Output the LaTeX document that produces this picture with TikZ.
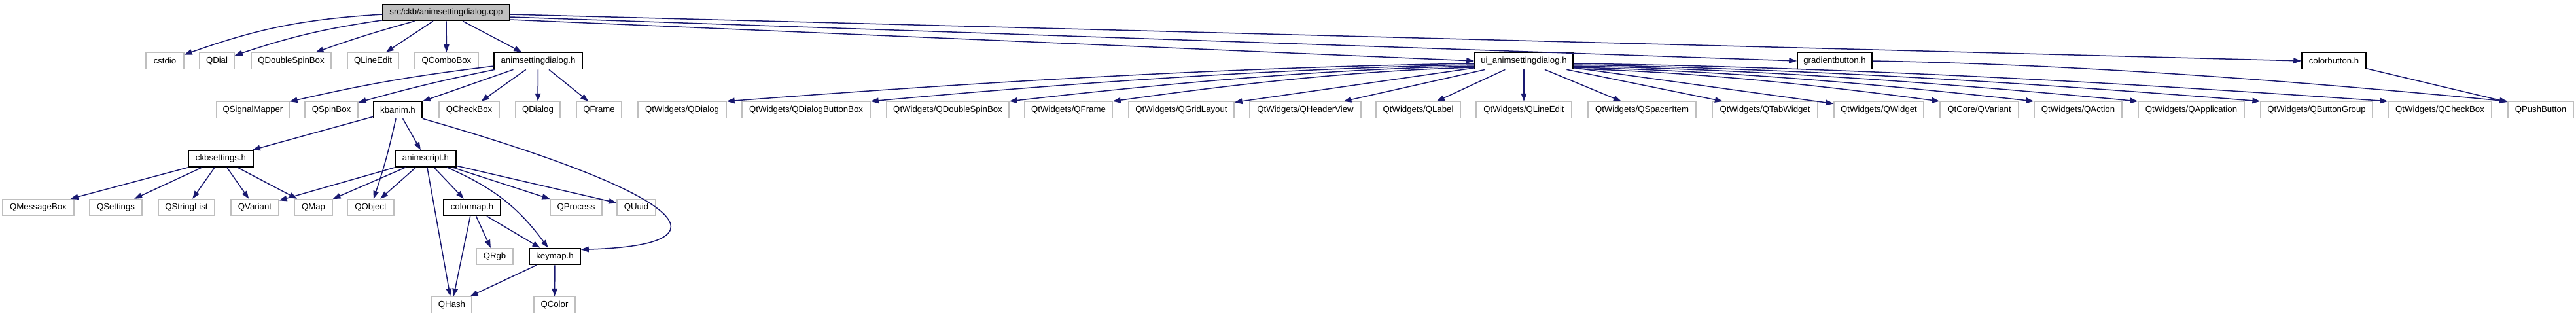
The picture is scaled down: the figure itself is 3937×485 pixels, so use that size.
\documentclass[tikz,border=0pt]{standalone}
\usepackage{fontspec}
\setmainfont{Liberation Sans}
\usetikzlibrary{arrows.meta,calc}
\definecolor{edgeblue}{HTML}{191970}
\definecolor{boxgray}{HTML}{BFBFBF}
\definecolor{maingray}{HTML}{BFBFBF}
\newcommand{\nodefont}{\fontsize{13.2}{15}\selectfont}
\tikzset{
  gnode/.style={draw=boxgray, line width=1.3pt, fill=white, minimum height=25pt, inner sep=0pt, font=\nodefont},
  fnode/.style={gnode, draw=black, line width=1.6pt},
  mnode/.style={fnode, fill=maingray},
  conn/.style={draw=edgeblue, line width=1.5pt, -{Triangle[length=12pt,width=8.5pt]}, fill=none},
  connr/.style={draw=edgeblue, line width=1.5pt, {Triangle[length=12pt,width=8.5pt]}-, fill=none},
}
\begin{document}
\begin{tikzpicture}[x=1pt,y=-1pt]
\useasboundingbox[fill=white] (0,0) rectangle (3937,485);
% row 0
\node[mnode,minimum width=194pt] (main) at (682,19) {src/ckb/animsettingdialog.cpp};
% row 1
\node[gnode,minimum width=58pt] (cstdio) at (252,93) {cstdio};
\node[gnode,minimum width=53pt] (qdial) at (331.5,93) {QDial};
\node[gnode,minimum width=122pt] (qdsb) at (445,93) {QDoubleSpinBox};
\node[gnode,minimum width=78pt] (qle) at (570,93) {QLineEdit};
\node[gnode,minimum width=97pt] (qcb) at (682.5,93) {QComboBox};
\node[fnode,minimum width=135pt] (asdh) at (822.5,93) {animsettingdialog.h};
\node[fnode,minimum width=150pt] (uih) at (2329,93) {ui\_animsettingdialog.h};
\node[fnode,minimum width=114pt] (gradh) at (2804,93) {gradientbutton.h};
\node[fnode,minimum width=98pt] (colh) at (3567,93) {colorbutton.h};
% row 2
\node[gnode,minimum width=111pt] (qsm) at (386.5,168) {QSignalMapper};
\node[gnode,minimum width=81pt] (qsb) at (506.5,168) {QSpinBox};
\node[fnode,minimum width=74pt] (kbanim) at (608,168) {kbanim.h};
\node[gnode,minimum width=92pt] (qchk) at (717,168) {QCheckBox};
\node[gnode,minimum width=68pt] (qdlg) at (822,168) {QDialog};
\node[gnode,minimum width=69pt] (qfrm) at (915.5,168) {QFrame};
\node[gnode,minimum width=135pt] (wdlg) at (1042.5,168) {QtWidgets/QDialog};
\node[gnode,minimum width=196pt] (wdbb) at (1232,168) {QtWidgets/QDialogButtonBox};
\node[gnode,minimum width=187pt] (wdsb) at (1448.5,168) {QtWidgets/QDoubleSpinBox};
\node[gnode,minimum width=134pt] (wfrm) at (1633,168) {QtWidgets/QFrame};
\node[gnode,minimum width=161pt] (wgrid) at (1805.5,168) {QtWidgets/QGridLayout};
\node[gnode,minimum width=170pt] (whv) at (1995,168) {QtWidgets/QHeaderView};
\node[gnode,minimum width=129pt] (wlbl) at (2167.5,168) {QtWidgets/QLabel};
\node[gnode,minimum width=146pt] (wle) at (2329,168) {QtWidgets/QLineEdit};
\node[gnode,minimum width=165pt] (wsi) at (2509.5,168) {QtWidgets/QSpacerItem};
\node[gnode,minimum width=161pt] (wtab) at (2697.5,168) {QtWidgets/QTabWidget};
\node[gnode,minimum width=137pt] (wwid) at (2871.5,168) {QtWidgets/QWidget};
\node[gnode,minimum width=120pt] (cvar) at (3025,168) {QtCore/QVariant};
\node[gnode,minimum width=134pt] (wact) at (3176,168) {QtWidgets/QAction};
\node[gnode,minimum width=162pt] (wapp) at (3349,168) {QtWidgets/QApplication};
\node[gnode,minimum width=171pt] (wbg) at (3540.5,168) {QtWidgets/QButtonGroup};
\node[gnode,minimum width=158pt] (wchk) at (3729,168) {QtWidgets/QCheckBox};
\node[gnode,minimum width=100pt] (qpb) at (3883,168) {QPushButton};
% row 3
\node[fnode,minimum width=99pt] (ckbs) at (337.5,242.5) {ckbsettings.h};
\node[fnode,minimum width=93pt] (anims) at (650.5,242.5) {animscript.h};
% row 4
\node[gnode,minimum width=109pt] (qmb) at (58.5,317) {QMessageBox};
\node[gnode,minimum width=80pt] (qset) at (177,317) {QSettings};
\node[gnode,minimum width=86pt] (qsl) at (285,317) {QStringList};
\node[gnode,minimum width=73pt] (qvar) at (389.5,317) {QVariant};
\node[gnode,minimum width=58pt] (qmap) at (479,317) {QMap};
\node[gnode,minimum width=71pt] (qobj) at (566.5,317) {QObject};
\node[fnode,minimum width=87pt] (colm) at (721.5,317) {colormap.h};
\node[gnode,minimum width=79pt] (qproc) at (880.5,317) {QProcess};
\node[gnode,minimum width=59pt] (quuid) at (972.5,317) {QUuid};
% row 5
\node[gnode,minimum width=56pt] (qrgb) at (756,392) {QRgb};
\node[fnode,minimum width=78pt] (keym) at (848,392) {keymap.h};
% row 6
\node[gnode,minimum width=61pt] (qhash) at (690.5,466) {QHash};
\node[gnode,minimum width=63pt] (qcolor) at (847.5,466) {QColor};

% edges from main
\draw[conn] (main) to[bend right=8] (cstdio);
\draw[conn] (main) to[bend right=5] (qdial);
\draw[conn] (main) to[bend right=2] (qdsb);
\draw[conn] (main) -- (qle);
\draw[conn] (main) -- (qcb);
\draw[conn] (main) -- (asdh);
\draw[conn] ($(main.east)+(0,3)$) -- (colh.west);
\draw[conn] ($(main.east)+(0,7)$) -- (gradh.west);
\draw[conn] ($(main.east)+(0,11)$) -- (uih.west);
% animsettingdialog.h
\draw[conn] (asdh) to[bend right=3] (qsm);
\draw[conn] (asdh) to[bend right=2] (qsb);
\draw[conn] (asdh) -- (kbanim);
\draw[conn] (asdh) -- (qchk);
\draw[conn] (asdh) -- (qdlg);
\draw[conn] (asdh) -- (qfrm);
% kbanim.h
\draw[conn] (kbanim) -- (ckbs);
\draw[conn] (kbanim) -- (anims);
\draw[conn] (kbanim) to[bend left=3] (qobj);
\draw[conn] (kbanim.south east) .. controls (1060,300) and (1120,375) .. (keym.15);
% ckbsettings.h
\draw[conn] (ckbs) -- (qmb);
\draw[conn] (ckbs) -- (qset);
\draw[conn] (ckbs) -- (qsl);
\draw[conn] (ckbs) -- (qvar);
\draw[conn] (ckbs) -- (qmap);
% animscript.h
\draw[conn] (anims) -- (qvar);
\draw[conn] (anims) -- (qmap);
\draw[conn] (anims) -- (qobj);
\draw[conn] (anims) -- (qhash);
\draw[conn] (anims) -- (colm);
\draw[conn] (anims) to[bend left=15] (keym);
\draw[conn] (anims) -- (qproc);
\draw[conn] (anims) -- (quuid);
% colormap.h
\draw[conn] (colm) -- (qhash);
\draw[conn] (colm) -- (qrgb);
\draw[conn] (colm) -- (keym);
% keymap.h
\draw[conn] (keym) -- (qhash);
\draw[conn] (keym) -- (qcolor);
% ui_animsettingdialog.h, left fan (drawn from target back to source)
\draw[connr] (wdlg.north east) .. controls ($(wdlg.north east)+(381,-29)$) and ($(uih.west)+(-381,10)$) .. ($(uih.west)+(0,4)$);
\draw[connr] (wdbb.north east) .. controls ($(wdbb.north east)+(308,-28)$) and ($(uih.west)+(-308,12)$) .. ($(uih.west)+(0,6)$);
\draw[connr] (wdsb.north east) .. controls ($(wdsb.north east)+(237,-27)$) and ($(uih.west)+(-237,13)$) .. ($(uih.west)+(0,8)$);
\draw[connr] (wfrm.north east) .. controls ($(wfrm.north east)+(185,-26)$) and ($(uih.west)+(-185,15)$) .. ($(uih.west)+(0,10)$);
\draw[conn] (uih) -- (wgrid);
\draw[conn] (uih) -- (whv);
\draw[conn] (uih) -- (wlbl);
\draw[conn] (uih) -- (wle);
\draw[conn] (uih) -- (wsi);
\draw[conn] (uih) -- (wtab);
\draw[conn] (uih) -- (wwid);
% right fan
\draw[conn] ($(uih.east)+(0,12)$) .. controls ($(uih.east)+(187,17)$) and ($(cvar.north west)+(-187,-25)$) .. (cvar.north west);
\draw[conn] ($(uih.east)+(0,10)$) .. controls ($(uih.east)+(235,15)$) and ($(wact.north west)+(-235,-26)$) .. (wact.north west);
\draw[conn] ($(uih.east)+(0,8)$) .. controls ($(uih.east)+(288,13)$) and ($(wapp.north west)+(-288,-27)$) .. (wapp.north west);
\draw[conn] ($(uih.east)+(0,6)$) .. controls ($(uih.east)+(350,12)$) and ($(wbg.north west)+(-350,-28)$) .. (wbg.north west);
\draw[conn] ($(uih.east)+(0,4)$) .. controls ($(uih.east)+(415,10)$) and ($(wchk.north west)+(-415,-29)$) .. (wchk.north west);
% buttons
\draw[conn] (gradh.east) .. controls ($(gradh.east)+(324,6)$) and ($(qpb.north west)+(-324,-31)$) .. (qpb.north west);
\draw[conn] (colh) -- (qpb);
\end{tikzpicture}
\end{document}
